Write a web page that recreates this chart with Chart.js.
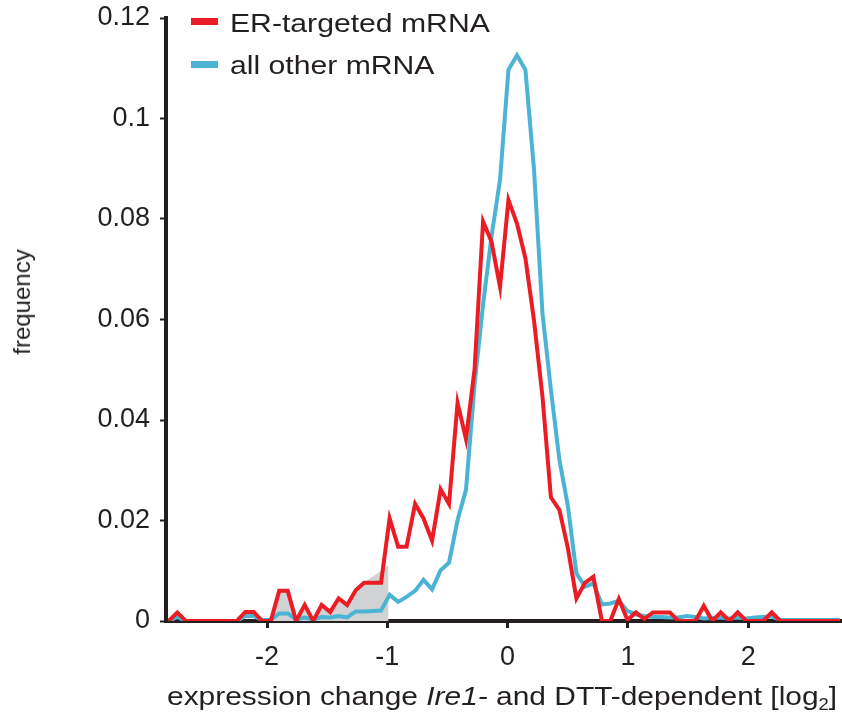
<!DOCTYPE html>
<html>
<head>
<meta charset="utf-8">
<script src="https://cdn.jsdelivr.net/npm/chart.js@4.4.1/dist/chart.umd.min.js"></script>
<style>
  html, body { margin: 0; padding: 0; background: #fff; }
  #wrap { position: relative; width: 842px; height: 717px; font-family: "Liberation Sans", Arial, sans-serif; color: #231f20; }
  #chart { position: absolute; left: 0; top: 0; }
  .leg { position: absolute; font-size: 26px; line-height: 26px; white-space: nowrap; transform: scaleX(1.16); transform-origin: left center; }
  .legbar { position: absolute; width: 27px; height: 7px; }
  #xtitle { position: absolute; left: 167px; top: 683px; font-size: 26px; line-height: 26px; white-space: nowrap; transform: scaleX(1.15); transform-origin: left center; }
  #xtitle sub { font-size: 16px; vertical-align: -5px; line-height: 0; }
  #ytitle { position: absolute; left: 22px; top: 302px; font-size: 24px; line-height: 24px; white-space: nowrap;
            transform: translate(-50%, -50%) rotate(-90deg); }
</style>
</head>
<body>
<div id="wrap">
  <canvas id="chart" width="842" height="717"></canvas>
  <div class="legbar" style="left:191px; top:18px; background:#ec1c24;"></div>
  <div class="leg" style="left:230px; top:10px;">ER-targeted mRNA</div>
  <div class="legbar" style="left:191px; top:61px; background:#4bb4d4;"></div>
  <div class="leg" style="left:230px; top:52px;">all other mRNA</div>
  <div id="xtitle">expression change <i>Ire1-</i> and DTT-dependent [log<sub>2</sub>]</div>
  <div id="ytitle">frequency</div>
</div>
<script>
// centros de los bins (log2)
const binCenters = [
  -2.817, -2.746, -2.675, -2.605, -2.534, -2.464, -2.393, -2.322, -2.252, -2.181,
  -2.111, -2.040, -1.969, -1.899, -1.828, -1.758, -1.687, -1.616, -1.546, -1.475,
  -1.405, -1.334, -1.263, -1.193, -1.122, -1.052, -0.981, -0.910, -0.840, -0.769,
  -0.699, -0.628, -0.557, -0.487, -0.416, -0.346, -0.275, -0.204, -0.134, -0.063,
  0.007, 0.078, 0.148, 0.219, 0.290, 0.360, 0.431, 0.501, 0.572, 0.643,
  0.713, 0.784, 0.854, 0.925, 0.996, 1.066, 1.137, 1.207, 1.278, 1.349,
  1.419, 1.490, 1.560, 1.631, 1.702, 1.772, 1.843, 1.913, 1.984, 2.055,
  2.125, 2.196, 2.266, 2.337, 2.408, 2.478, 2.549, 2.619, 2.690, 2.761
];

// ER-targeted mRNA
const erTargeted = [
  0, 0.0017, 0, 0, 0, 0, 0, 0, 0, 0.0018,
  0.0018, 0, 0, 0.006, 0.006, 0, 0.0032, 0, 0.0032, 0.0018,
  0.0045, 0.0032, 0.0061, 0.0076, 0.0076, 0.0076, 0.0204, 0.0148, 0.0148, 0.0233,
  0.0204, 0.016, 0.0262, 0.0233, 0.0434, 0.0362, 0.050, 0.0795, 0.0755, 0.0665,
  0.0838, 0.0791, 0.0722, 0.0599, 0.0446, 0.0246, 0.0221, 0.0145, 0.0045, 0.0076,
  0.0088, 0, 0, 0.0044, 0.0002, 0.0017, 0.0004, 0.0017, 0.0017, 0.0017,
  0, 0, 0, 0.003, 0, 0.0017, 0, 0.0017, 0, 0,
  0, 0.0017, 0, 0, 0, 0, 0, 0, 0, 0
];

// all other mRNA
const allOther = [
  0, 0.0008, 0, 0, 0, 0, 0, 0, 0, 0.001,
  0.001, 0.0002, 0.0002, 0.0015, 0.0015, 0.0003, 0.0007, 0.0003, 0.0008, 0.0007,
  0.001, 0.0007, 0.0019, 0.0019, 0.002, 0.0021, 0.0052, 0.0038, 0.0048, 0.006,
  0.0082, 0.0063, 0.0101, 0.0116, 0.0201, 0.0261, 0.047, 0.063, 0.0765, 0.0878,
  0.1097, 0.1126, 0.1097, 0.090, 0.0612, 0.046, 0.032, 0.0229, 0.0095, 0.0068,
  0.0075, 0.0033, 0.0035, 0.004, 0.002, 0.0013, 0.001, 0.0008, 0.0008, 0.0007,
  0.0007, 0.001, 0.0008, 0.0005, 0.0006, 0.0007, 0.0005, 0.0007, 0.0005, 0.0007,
  0.0008, 0.0009, 0.0002, 0.0002, 0.0002, 0.0002, 0.0002, 0.0002, 0.0002, 0.0002
];

// zona sombreada (x < -1)
const shadeFrom = 12;   // indice en binCenters
const shadeTo = 23;
const shadeEdgeX = -0.99;
const shadeEdgeY = 0.0111;

const xTicks = [-2, -1, 0, 1, 2];
const xTickLabels = ['-2', '-1', '0', '1', '2'];
const yTicks = [0, 0.02, 0.04, 0.06, 0.08, 0.1, 0.12];
const yTickLabels = ['0', '0.02', '0.04', '0.06', '0.08', '0.1', '0.12'];

const ink = '#231f20';

function pts(ys) {
    return binCenters.map((x, i) => ({ x: x, y: ys[i] }));
}

const shadePts = pts(erTargeted).slice(shadeFrom, shadeTo + 1);
shadePts.push({ x: shadeEdgeX, y: shadeEdgeY });

const ctx = document.getElementById('chart').getContext('2d');
new Chart(ctx, {
    type: 'line',
    data: {
        datasets: [
            {
                label: 'shade',
                data: shadePts,
                borderWidth: 0,
                borderColor: 'rgba(0,0,0,0)',
                backgroundColor: '#d1d2d4',
                fill: 'origin',
                pointRadius: 0,
                tension: 0,
                order: 3
            },
            {
                label: 'all other mRNA',
                data: pts(allOther),
                borderColor: '#4bb4d4',
                borderWidth: 4,
                pointRadius: 0,
                tension: 0,
                fill: false,
                order: 2
            },
            {
                label: 'ER-targeted mRNA',
                data: pts(erTargeted),
                borderColor: '#ec1c24',
                borderWidth: 4,
                pointRadius: 0,
                tension: 0,
                fill: false,
                order: 1
            }
        ]
    },
    options: {
        responsive: false,
        animation: false,
        devicePixelRatio: 1,
        layout: { padding: { top: 18, right: 0, left: 0, bottom: 0 } },
        plugins: {
            legend: { display: false },
            tooltip: { enabled: false }
        },
        scales: {
            x: {
                type: 'linear',
                min: -2.84,
                max: 2.78,
                afterFit: function(scale) {
                    scale.height = 96;
                    scale.paddingLeft = 0;
                    scale.paddingRight = 0;
                },
                afterBuildTicks: function(scale) {
                    scale.ticks = xTicks.map(v => ({ value: v }));
                },
                ticks: {
                    autoSkip: false,
                    maxRotation: 0,
                    padding: 13,
                    color: ink,
                    font: { family: '"Liberation Sans", Arial, sans-serif', size: 27 },
                    callback: function(value) {
                        const i = xTicks.indexOf(value);
                        return i >= 0 ? xTickLabels[i] : '';
                    }
                },
                grid: { display: true, drawOnChartArea: false, drawTicks: true, tickLength: 7, tickWidth: 3, color: ink },
                border: { display: true, color: ink, width: 4 }
            },
            y: {
                min: 0,
                max: 0.12,
                afterFit: function(scale) {
                    scale.width = 166;
                    scale.paddingTop = 0;
                    scale.paddingBottom = 0;
                },
                afterBuildTicks: function(scale) {
                    scale.ticks = yTicks.map(v => ({ value: v }));
                },
                ticks: {
                    autoSkip: false,
                    padding: 10,
                    color: ink,
                    font: { family: '"Liberation Sans", Arial, sans-serif', size: 27 },
                    callback: function(value) {
                        const i = yTicks.indexOf(value);
                        return i >= 0 ? yTickLabels[i] : '';
                    }
                },
                grid: { display: true, drawOnChartArea: false, drawTicks: true, tickLength: 6, tickWidth: 2, color: ink },
                border: { display: true, color: ink, width: 4 }
            }
        }
    }
});
</script>
</body>
</html>
